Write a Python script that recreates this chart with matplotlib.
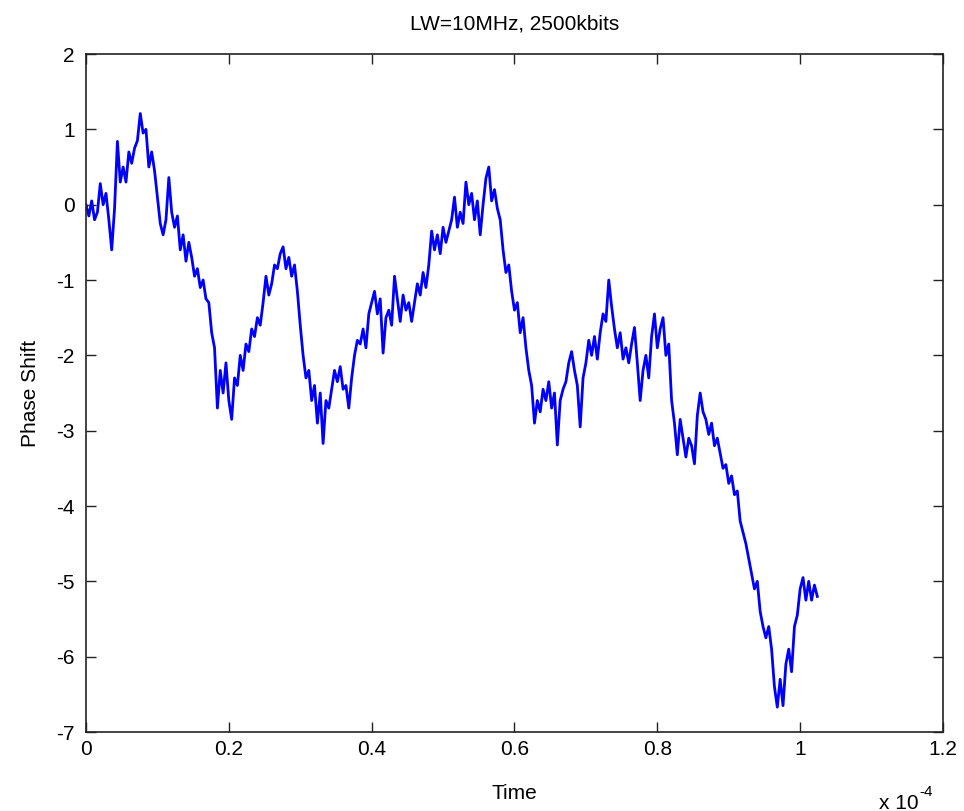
import numpy as np
import matplotlib
matplotlib.use("Agg")
import matplotlib.pyplot as plt

# sample spacing (units of 1e-4 s)
dt = 0.004

# phase samples, one every dt
phase = [
    0.0, -0.15, 0.05, -0.2, -0.1, 0.28, 0.0, 0.15, -0.2, -0.6,
    -0.05, 0.84, 0.3, 0.5, 0.3, 0.7, 0.55, 0.75, 0.85, 1.21,
    0.95, 1.0, 0.5, 0.7, 0.45, 0.1, -0.25, -0.4, -0.2, 0.36,
    -0.1, -0.3, -0.15, -0.6, -0.4, -0.75, -0.5, -0.7, -0.95, -0.85,
    -1.1, -1.0, -1.25, -1.3, -1.7, -1.9, -2.7, -2.2, -2.5, -2.1,
    -2.6, -2.85, -2.3, -2.4, -2.0, -2.2, -1.85, -1.95, -1.65, -1.75,
    -1.5, -1.6, -1.3, -0.95, -1.2, -1.05, -0.8, -0.85, -0.65, -0.56,
    -0.85, -0.7, -0.95, -0.8, -1.15, -1.6, -2.0, -2.3, -2.2, -2.6,
    -2.4, -2.9, -2.5, -3.17, -2.6, -2.7, -2.45, -2.2, -2.35, -2.15,
    -2.45, -2.4, -2.7, -2.3, -2.0, -1.8, -1.85, -1.65, -1.9, -1.45,
    -1.3, -1.15, -1.45, -1.25, -1.97, -1.5, -1.4, -1.6, -0.95, -1.25,
    -1.55, -1.2, -1.4, -1.3, -1.55, -1.3, -1.05, -1.2, -0.9, -1.1,
    -0.8, -0.35, -0.6, -0.4, -0.65, -0.3, -0.5, -0.35, -0.2, 0.1,
    -0.3, -0.1, -0.25, 0.3, 0.0, 0.15, -0.2, 0.05, -0.4, 0.0,
    0.35, 0.5, 0.05, 0.2, -0.05, -0.2, -0.6, -0.9, -0.8, -1.15,
    -1.4, -1.3, -1.7, -1.5, -1.9, -2.2, -2.4, -2.9, -2.6, -2.75,
    -2.45, -2.6, -2.35, -2.7, -2.5, -3.19, -2.6, -2.45, -2.35, -2.1,
    -1.95, -2.2, -2.4, -2.95, -2.3, -2.1, -1.8, -2.0, -1.75, -2.05,
    -1.7, -1.45, -1.55, -1.0, -1.35, -1.65, -1.9, -1.7, -2.05, -1.9,
    -2.1, -1.85, -1.63, -2.1, -2.6, -2.2, -2.0, -2.3, -1.75, -1.45,
    -1.9, -1.65, -1.5, -2.0, -1.85, -2.6, -2.9, -3.32, -2.85, -3.1,
    -3.35, -3.1, -3.2, -3.44, -2.8, -2.5, -2.75, -2.85, -3.05, -2.9,
    -3.2, -3.1, -3.3, -3.5, -3.45, -3.7, -3.6, -3.85, -3.8, -4.2,
    -4.35, -4.5, -4.7, -4.9, -5.1, -5.0, -5.4, -5.6, -5.75, -5.6,
    -5.9, -6.4, -6.67, -6.3, -6.65, -6.1, -5.9, -6.2, -5.6, -5.45,
    -5.1, -4.95, -5.25, -5.0, -5.25, -5.05, -5.2,
]
time = np.arange(len(phase)) * dt

xticks = [0, 0.2, 0.4, 0.6, 0.8, 1, 1.2]
xticklabels = ["0", "0.2", "0.4", "0.6", "0.8", "1", "1.2"]
yticks = list(range(-7, 3))

plt.rcParams['font.family'] = ['Liberation Sans', 'DejaVu Sans']
plt.rcParams['axes.unicode_minus'] = False

fig = plt.figure(figsize=(9.64, 8.11), dpi=100)
ax = fig.add_axes([0.0892, 0.0974, 0.8890, 0.8360])

ax.plot(time, phase, color=(0, 0, 1), lw=2.0)

ax.set_xlim(0, 1.2)
ax.set_ylim(-7, 2)
ax.set_xticks(xticks)
ax.set_xticklabels(xticklabels)
ax.set_yticks(yticks)
ax.tick_params(direction='in', length=7, width=1, top=True, right=True,
               labelsize=15, color='#222222')
ax.tick_params(axis='x', pad=6)
ax.tick_params(axis='y', pad=8)
for s in ax.spines.values():
    s.set_linewidth(1.2)
    s.set_color('#222222')

ax.set_title("LW=10MHz, 2500kbits", fontsize=15, pad=18)
ax.set_xlabel("Time", fontsize=15, labelpad=18)
ax.set_ylabel("Phase Shift", fontsize=15, labelpad=12)
# exponent label, MATLAB style
ax.text(0.972, -0.105, "x 10", transform=ax.transAxes,
        fontsize=15, ha='right', va='center')
ax.text(0.973, -0.088, "-4", transform=ax.transAxes,
        fontsize=11, ha='left', va='center')

fig.savefig("out.png", dpi=100, facecolor='white')
